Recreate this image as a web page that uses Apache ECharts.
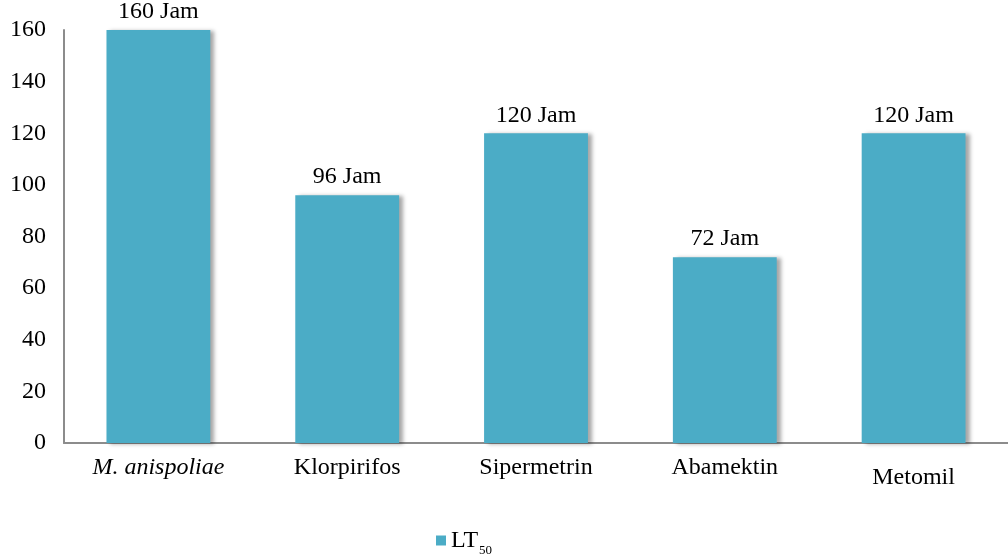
<!DOCTYPE html>
<html>
<head>
<meta charset="utf-8">
<script src="https://cdn.jsdelivr.net/npm/echarts@6/dist/echarts.min.js"></script>
<style>
  html, body { margin: 0; padding: 0; background: #fff; }
  #chart { width: 1008px; height: 559px; }
</style>
</head>
<body>
<div id="chart"></div>
<script>
// LT50 (hours) per treatment
const categories = ['M. anispoliae', 'Klorpirifos', 'Sipermetrin', 'Abamektin', 'Metomil'];
const lt50Hours = [160, 96, 120, 72, 120];
const yTicks = [0, 20, 40, 60, 80, 100, 120, 140, 160];

const serif = '"Liberation Serif", "DejaVu Serif", serif';
const barColor = '#4BACC6';
const fs = 24;

const chart = echarts.init(document.getElementById('chart'));
chart.setOption({
  animation: false,
  textStyle: { fontFamily: serif },
  grid: { left: 64, right: -12, top: 30, bottom: 116 },
  legend: {
    padding: 0,
    bottom: 2,
    left: 436,
    itemWidth: 10,
    itemHeight: 10,
    itemGap: 6,
    icon: 'rect',
    data: [{ name: 'LT50' }],
    formatter: () => '{m|LT}{s|50}',
    textStyle: {
      rich: {
        m: { fontFamily: serif, fontSize: fs, color: '#000' },
        s: { fontFamily: serif, fontSize: 13, color: '#000', padding: [20, 0, 0, 1] }
      }
    }
  },
  xAxis: {
    type: 'category',
    data: categories,
    axisLine: { lineStyle: { color: '#8c8c8c', width: 2 } },
    axisTick: { show: false },
    axisLabel: {
      margin: 13,
      interval: 0,
      fontFamily: serif,
      fontSize: fs,
      color: '#000',
      formatter: (v, i) => i === 0 ? '{it|' + v + '}' : (i === categories.length - 1 ? '{low|' + v + '}' : v),
      rich: {
        it: { fontFamily: serif, fontSize: fs, fontStyle: 'italic', color: '#000' },
        low: { fontFamily: serif, fontSize: fs, color: '#000', padding: [10, 0, 0, 0] }
      }
    }
  },
  yAxis: {
    type: 'value',
    min: yTicks[0],
    max: yTicks[yTicks.length - 1],
    interval: yTicks[1] - yTicks[0],
    axisLine: { show: true, lineStyle: { color: '#8c8c8c', width: 2 } },
    axisTick: { show: false },
    splitLine: { show: false },
    axisLabel: { margin: 18, fontFamily: serif, fontSize: fs, color: '#000' }
  },
  series: [{
    name: 'LT50',
    type: 'bar',
    data: lt50Hours,
    barWidth: '55%',
    itemStyle: {
      color: barColor,
      shadowColor: 'rgba(0,0,0,0.35)',
      shadowBlur: 4,
      shadowOffsetX: 4,
      shadowOffsetY: 1
    },
    label: {
      show: true,
      position: 'top',
      distance: 6,
      fontFamily: serif,
      fontSize: fs,
      color: '#000',
      formatter: p => p.value + ' Jam'
    }
  }]
});
</script>
</body>
</html>
